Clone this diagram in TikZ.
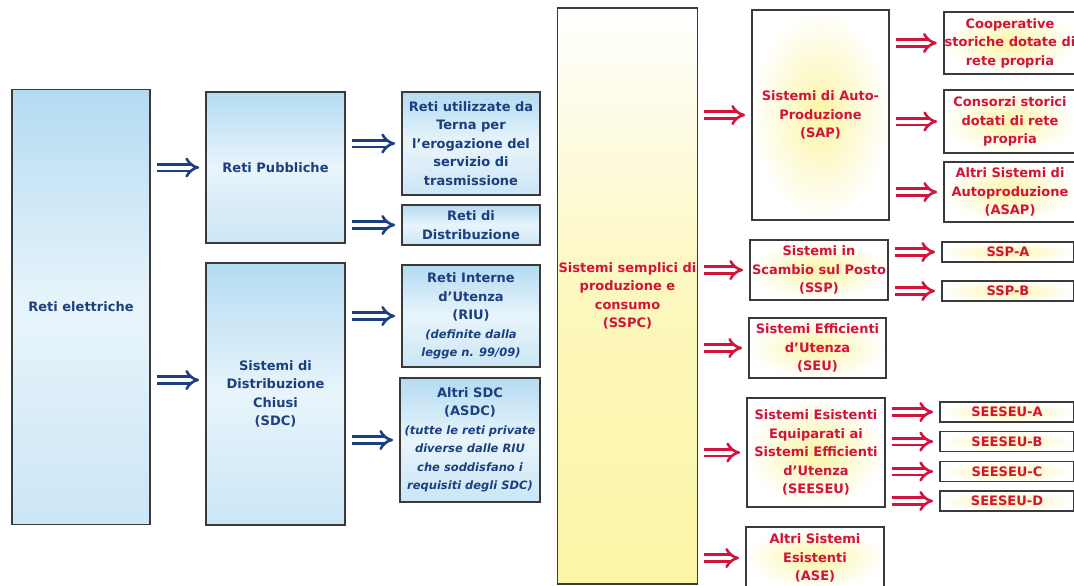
\documentclass[tikz,border=0pt]{standalone}
\usepackage{fontspec}
\setmainfont{DejaVu Sans}
\usetikzlibrary{arrows.meta}

\definecolor{navytxt}{HTML}{1C3F80}
\definecolor{redtxt}{HTML}{D0143C}
\definecolor{bluefill}{HTML}{B4DBF2}
\definecolor{yellowfill}{HTML}{FBF5A6}
\definecolor{edgegray}{HTML}{3A3A3A}

\newcommand\itsm{\itshape\fontsize{11.5}{18.5}\selectfont}

\tikzset{
  box/.style={draw=edgegray, line width=1.8pt, align=center, inner sep=1pt,
    font=\bfseries\fontsize{13}{18.5}\selectfont},
  bluebox/.style={box, text=navytxt, top color=bluefill, bottom color=bluefill!70,
    middle color=bluefill!30},
  yellowbox/.style={box, text=redtxt, inner color=yellowfill, outer color=white},
  sspcbox/.style={box, text=redtxt, top color=white, bottom color=yellowfill,
    middle color=yellowfill!75},
  arr/.style={double distance=4pt, line width=2.6pt, -{Implies},
    shorten <=6pt, shorten >=6pt},
  bluearrow/.style={arr, draw=navytxt, double=white},
  redarrow/.style={arr, draw=redtxt, double=white},
}

\begin{document}
\begin{tikzpicture}[x=1pt, y=-1pt]
  \useasboundingbox (0,0) rectangle (1074,586);

  % reti (blu)
  \node[bluebox, minimum width=138, minimum height=435] (reti) at (81,307) {Reti elettriche};
  \node[bluebox, minimum width=139, minimum height=151] (pubb) at (275.5,167.5) {Reti Pubbliche};
  \node[bluebox, minimum width=139, minimum height=262] (sdc) at (275.5,394)
    {Sistemi di\\Distribuzione\\Chiusi\\(SDC)};
  \node[bluebox, minimum width=138, minimum height=103] (terna) at (471,143.5)
    {Reti utilizzate da\\Terna per\\l'erogazione del\\servizio di\\trasmissione};
  \node[bluebox, minimum width=138, minimum height=40] (distr) at (471,225)
    {Reti di\\Distribuzione};
  \node[bluebox, minimum width=138, minimum height=102] (riu) at (471,316)
    {Reti Interne\\d'Utenza\\(RIU)\\\itsm(definite dalla\\\itsm legge n. 99/09)};
  \node[bluebox, minimum width=140, minimum height=124] (asdc) at (470,440)
    {Altri SDC\\(ASDC)\\\itsm(tutte le reti private\\\itsm diverse dalle RIU\\\itsm che soddisfano i\\\itsm requisiti degli SDC)};

  \draw[bluearrow] (reti.east |- pubb.west) -- (pubb.west);
  \draw[bluearrow] ([yshift=14pt]reti.east |- sdc.west) -- ([yshift=14pt]sdc.west);
  \draw[bluearrow] (pubb.east |- terna.west) -- (terna.west);
  \draw[bluearrow] (pubb.east |- distr.west) -- (distr.west);
  \draw[bluearrow] (sdc.east |- riu.west) -- (riu.west);
  \draw[bluearrow] (sdc.east |- asdc.west) -- (asdc.west);

  % sistemi semplici (rosso)
  \node[sspcbox, minimum width=139, minimum height=576] (sspc) at (627.5,296)
    {Sistemi semplici di\\produzione e\\consumo\\(SSPC)};
  \node[yellowbox, minimum width=137, minimum height=210] (sap) at (820.5,115)
    {Sistemi di Auto-\\Produzione\\(SAP)};
  \node[yellowbox, minimum width=138, minimum height=60] (ssp) at (819,270)
    {Sistemi in\\Scambio sul Posto\\(SSP)};
  \node[yellowbox, minimum width=137, minimum height=60] (seu) at (817.5,348)
    {Sistemi Efficienti\\d'Utenza\\(SEU)};
  \node[yellowbox, minimum width=138, minimum height=109] (seeseu) at (816,452.5)
    {Sistemi Esistenti\\Equiparati ai\\Sistemi Efficienti\\d'Utenza\\(SEESEU)};
  \node[yellowbox, minimum width=138, minimum height=62] (ase) at (815,558)
    {Altri Sistemi\\Esistenti\\(ASE)};

  \node[yellowbox, minimum width=132, minimum height=62] (coop) at (1010,43)
    {Cooperative\\storiche dotate di\\rete propria};
  \node[yellowbox, minimum width=132, minimum height=63] (cons) at (1010,121.5)
    {Consorzi storici\\dotati di rete\\propria};
  \node[yellowbox, minimum width=132, minimum height=60] (asap) at (1010,192)
    {Altri Sistemi di\\Autoproduzione\\(ASAP)};
  \node[yellowbox, minimum width=132, minimum height=20] (sspa) at (1008,252) {SSP-A};
  \node[yellowbox, minimum width=132, minimum height=20] (sspb) at (1008,291) {SSP-B};
  \node[yellowbox, minimum width=134, minimum height=20] (seeseua) at (1007,412) {SEESEU-A};
  \node[yellowbox, minimum width=134, minimum height=20] (seeseub) at (1007,441.5) {SEESEU-B};
  \node[yellowbox, minimum width=134, minimum height=20] (seeseuc) at (1007,471.5) {SEESEU-C};
  \node[yellowbox, minimum width=134, minimum height=20] (seeseud) at (1007,501) {SEESEU-D};

  \foreach \t in {sap,ssp,seu,seeseu,ase}
    \draw[redarrow] (sspc.east |- \t.west) -- (\t.west);
  \foreach \t in {coop,cons,asap}
    \draw[redarrow] (sap.east |- \t.west) -- (\t.west);
  \foreach \t in {sspa,sspb}
    \draw[redarrow] (ssp.east |- \t.west) -- (\t.west);
  \foreach \t in {seeseua,seeseub,seeseuc,seeseud}
    \draw[redarrow] (seeseu.east |- \t.west) -- (\t.west);
\end{tikzpicture}
\end{document}
